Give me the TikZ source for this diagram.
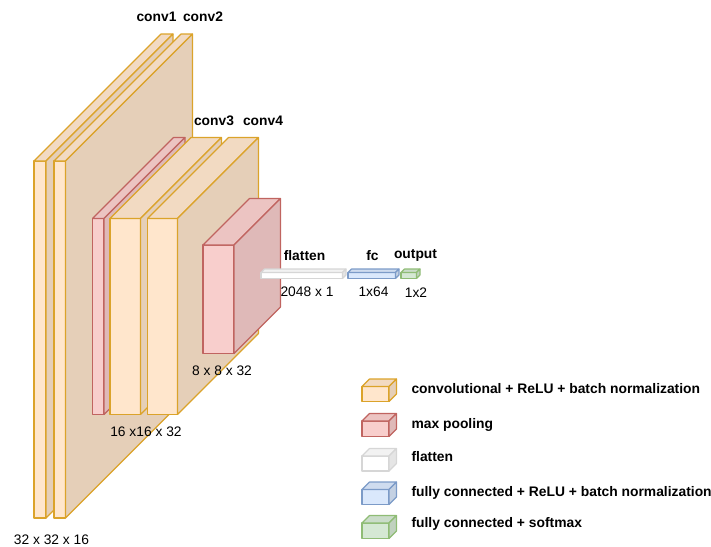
\documentclass[tikz,border=0pt]{standalone}
\usepackage{fontspec}
\setmainfont{Liberation Sans}
\definecolor{convline}{HTML}{DBA32A}
\definecolor{convfill}{HTML}{FFE6CC}
\definecolor{poolline}{HTML}{C06460}
\definecolor{poolfill}{HTML}{F8CECC}
\definecolor{flatline}{HTML}{D6D6D6}
\definecolor{flatfill}{HTML}{FFFFFF}
\definecolor{fcline}{HTML}{7C9BC8}
\definecolor{fcfill}{HTML}{DAE8FC}
\definecolor{outline}{HTML}{8FBC75}
\definecolor{outfill}{HTML}{D5E8D4}
% kind, left, right, top, bottom, depth
\newcommand{\drawcube}[6]{
	\filldraw[edge, draw=#1line, fill=#1fill] (#2,#4) rectangle (#3,#5);
	\filldraw[edge, draw=#1line, fill=#1fill!95!black] (#2,#4) -- ++(#6,-#6) -- ++(#3-#2,0) -- (#3,#4) -- cycle;
	\filldraw[edge, draw=#1line, fill=#1fill!90!black] (#3,#4) -- ++(#6,-#6) -- ++(0,#5-#4) -- (#3,#5) -- cycle;
}
\begin{document}
\begin{tikzpicture}[x=1pt, y=-1pt,
	edge/.style = {line width=1.1pt, line join=round},
	head/.style = {font=\fontsize{13.8}{16}\selectfont\bfseries, yshift=-0.7pt},
	size/.style = {font=\fontsize{13.8}{16}\selectfont, yshift=-0.7pt},
	entry/.style = {font=\fontsize{13.85}{16}\selectfont\bfseries, anchor=west, yshift=-0.5pt}]
	\useasboundingbox (0,0) rectangle (711,546);
	% Layers
	\drawcube{conv}{34}{46}{161}{518}{127}
	\drawcube{conv}{54}{65.5}{161}{518}{127}
	\drawcube{pool}{92.5}{104}{218.5}{414.5}{81}
	\drawcube{conv}{110}{140.5}{218.5}{414.5}{81}
	\drawcube{conv}{147.5}{177.5}{218.5}{414.5}{81}
	\drawcube{pool}{203}{234}{245}{353.5}{46.5}
	\drawcube{flat}{261}{342.5}{272.5}{278.5}{3.5}
	\drawcube{fc}{348}{395.5}{272.5}{278.5}{3.5}
	\drawcube{out}{401}{416.5}{272.5}{278.5}{3.5}
	% Layer names
	\node[head] (conv1) at (156.5,16) {conv1};
	\node[head] (conv2) at (203,16) {conv2};
	\node[head] (conv3) at (214,120) {conv3};
	\node[head] (conv4) at (263,120) {conv4};
	\node[head] (flatten) at (304.5,255) {flatten};
	\node[head] (fc) at (372.5,255) {fc};
	\node[head] (output) at (415.5,255) {output};
	% Sizes
	\node[size] (size1) at (51.5,539) {32 x 32 x 16};
	\node[size] (size2) at (146,431.5) {16 x16 x 32};
	\node[size] (size3) at (222,370) {8 x 8 x 32};
	\node[size] (size4) at (307,291.5) {2048 x 1};
	\node[size] (size5) at (373.5,291.5) {1x64};
	\node[size] (size6) at (416,291.5) {1x2};
	% Legend
	\drawcube{conv}{362}{389}{386.5}{401.5}{7.5}
	\drawcube{pool}{362}{389}{421}{436.5}{7.5}
	\drawcube{flat}{362}{389}{456}{471}{7.5}
	\drawcube{fc}{362}{389}{489.5}{504.5}{7.5}
	\drawcube{out}{362}{389}{523}{538.5}{7.5}
	\node[entry] (entry1) at (408,388.5) {convolutional + ReLU + batch normalization};
	\node[entry] (entry2) at (408,424.5) {max pooling};
	\node[entry] (entry3) at (408,456.5) {flatten};
	\node[entry] (entry4) at (408,492.5) {fully connected + ReLU + batch normalization};
	\node[entry] (entry5) at (408,523.5) {fully connected + softmax};
\end{tikzpicture}
\end{document}
